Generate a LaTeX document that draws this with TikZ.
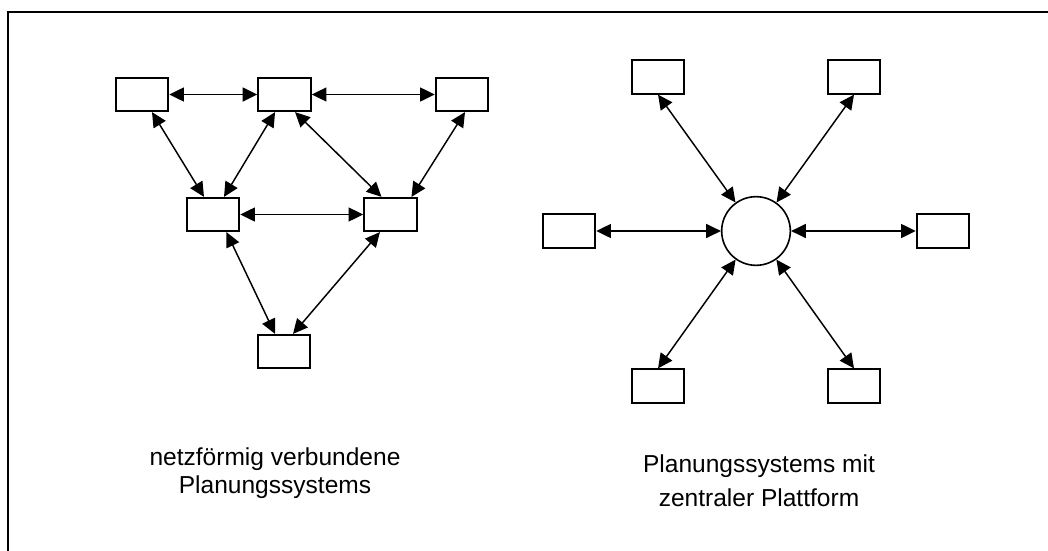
\documentclass[tikz,border=0pt]{standalone}
\usepackage{fontspec}
\setmainfont{Liberation Sans}
\usetikzlibrary{arrows.meta, positioning}

\begin{document}
\begin{tikzpicture}[
    x=0.75pt, y=-0.75pt,
    on grid,
    box/.style={
        rectangle,
        draw=black,
        line width=1.4pt,
        minimum width=39.5pt,
        minimum height=25pt,
        inner sep=0pt
    },
    hub/.style={
        circle,
        draw=black,
        line width=1.2pt,
        minimum size=51.5pt,
        inner sep=0pt
    },
    link/.style={{Triangle[length=11pt,width=10.5pt]}-{Triangle[length=11pt,width=10.5pt]}, line width=1.1pt},
    caption/.style={align=center, font=\fontsize{18.4}{21}\selectfont}
]
\clip (0,0) rectangle (1048,550);
\draw[line width=1.3pt] (8.2,11.8) rectangle (1070,580);

% meshed planning systems
\node[box] (tl) at (142,94.5) {};
\node[box, right=106.9pt of tl] (tm) {};
\node[box, right=133.1pt of tm] (tr) {};
\node[box, below right=90pt and 53.25pt of tl] (ml) {};
\node[box, right=133.1pt of ml] (mr) {};
\node[box, below right=102.75pt and 53.25pt of ml] (b) {};

\draw[link] (tl) -- (tm);
\draw[link] (tm) -- (tr);
\draw[link] (ml) -- (mr);
\draw[link] ([xshift=7.5pt]tl.south) -- ([xshift=-6.75pt]ml.north);
\draw[link] ([xshift=-7.1pt]tm.south) -- ([xshift=8.25pt]ml.north);
\draw[link] ([xshift=7.9pt]tm.south) -- ([xshift=-6.75pt]mr.north);
\draw[link] ([xshift=2.25pt]tr.south) -- ([xshift=15.75pt]mr.north);
\draw[link] ([xshift=10.1pt]ml.south) -- ([xshift=-6.75pt]b.north);
\draw[link] ([xshift=-7.9pt]mr.south) -- ([xshift=6.75pt]b.north);

% star around the central platform
\node[hub] (hub) at (756,231) {};
\node[box, above left=115.5pt and 73.5pt of hub] (tlb) {};
\node[box, above right=115.5pt and 73.5pt of hub] (trb) {};
\node[box, left=140.25pt of hub] (lb) {};
\node[box, right=140.25pt of hub] (rb) {};
\node[box, below left=116.25pt and 73.5pt of hub] (blb) {};
\node[box, below right=116.25pt and 73.5pt of hub] (brb) {};

\draw[link] (tlb.south) -- (hub);
\draw[link] (trb.south) -- (hub);
\draw[link] (lb) -- (hub);
\draw[link] (hub) -- (rb);
\draw[link] (hub) -- (blb.north);
\draw[link] (hub) -- (brb.north);

% captions (base = last line)
\node[caption, anchor=base] (meshcap) at (275,493) {netzförmig verbundene\\Planungssystems};
\node[caption, anchor=base, font=\fontsize{18.4}{25.5}\selectfont] (hubcap) at (759,506) {Planungssystems mit\\zentraler Plattform};

\end{tikzpicture}
\end{document}
